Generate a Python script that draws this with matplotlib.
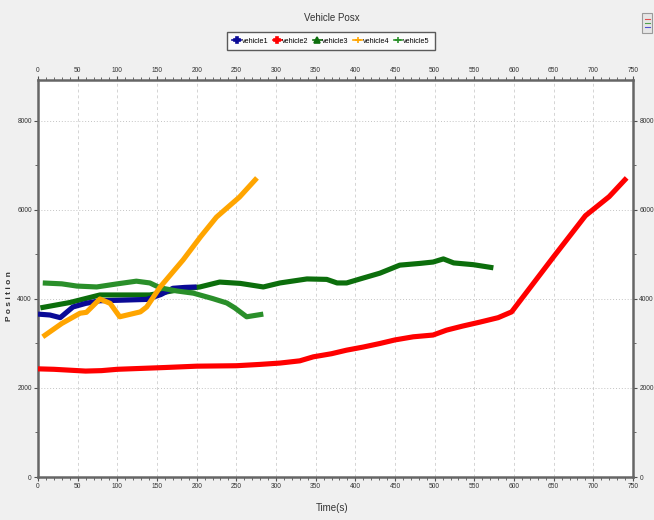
import matplotlib
matplotlib.use("Agg")
import matplotlib.pyplot as plt
from matplotlib.ticker import MultipleLocator
from matplotlib.patches import Rectangle
from matplotlib.lines import Line2D

plt.rcParams['font.family'] = ['Liberation Sans', 'DejaVu Sans']

# ---- data ----
v1_t = [0, 15, 28, 44, 60, 78, 100, 137, 155, 170, 185, 200]
v1_y = [3660, 3640, 3580, 3820, 3900, 3960, 3970, 3990, 4100, 4240, 4260, 4270]

v2_t = [0, 20, 40, 60, 80, 100, 130, 160, 200, 250, 280, 305, 330, 347, 370, 389,
        410, 431, 450, 473, 498, 515, 535, 557, 580, 597, 650, 690, 720, 742]
v2_y = [2430, 2420, 2400, 2380, 2390, 2420, 2440, 2460, 2490, 2500, 2530, 2560, 2610,
        2700, 2770, 2850, 2920, 3000, 3080, 3150, 3190, 3300, 3390, 3480, 3580, 3710,
        4950, 5870, 6300, 6720]

v3_t = [3, 40, 78, 110, 141, 175, 204, 229, 255, 284, 305, 339, 364, 377, 389, 406,
        431, 456, 482, 498, 511, 524, 549, 574]
v3_y = [3800, 3920, 4090, 4090, 4090, 4200, 4270, 4380, 4350, 4270, 4360, 4450, 4440,
        4360, 4360, 4450, 4580, 4760, 4800, 4830, 4900, 4810, 4770, 4700]

v4_t = [6, 30, 53, 61, 78, 91, 103, 129, 137, 154, 183, 205, 225, 254, 276]
v4_y = [3150, 3450, 3680, 3700, 4000, 3900, 3600, 3710, 3820, 4270, 4880, 5400, 5840, 6290, 6720]

v5_t = [6, 30, 49, 74, 100, 124, 141, 154, 175, 196, 220, 238, 248, 263, 284]
v5_y = [4360, 4340, 4290, 4270, 4340, 4400, 4360, 4250, 4180, 4130, 4010, 3910, 3800, 3600, 3660]

names = ['vehicle1', 'vehicle2', 'vehicle3', 'vehicle4', 'vehicle5']
colors = ['#0a0a96', '#ff0000', '#0c6e0c', '#ffa500', '#2a8f2a']
markers = ['P', 'P', '^', '+', '+']
series = [(v1_t, v1_y), (v2_t, v2_y), (v3_t, v3_y), (v4_t, v4_y), (v5_t, v5_y)]

# ---- figure ----
fig = plt.figure(figsize=(6.54, 5.20), dpi=100, facecolor='#f0f0f0')
ax = fig.add_axes([38/654, 1-477/520, (633-38)/654, (477-80)/520])
ax.set_facecolor('white')

draw_order = [1, 2, 0, 4, 3]
for i in draw_order:
    t, y = series[i]
    ax.plot(t, y, color=colors[i], lw=3.7, solid_capstyle='butt', solid_joinstyle='round', zorder=3)

ax.set_xlim(0, 750)
ax.set_ylim(0, 8920)
ax.xaxis.set_major_locator(MultipleLocator(50))
ax.xaxis.set_minor_locator(MultipleLocator(10))
ax.yaxis.set_major_locator(MultipleLocator(2000))
ax.yaxis.set_minor_locator(MultipleLocator(1000))

ax.tick_params(axis='both', which='both', direction='out', colors='#505050',
               labelcolor='#333333', labelsize=4.8, top=True, right=True,
               labeltop=True, labelright=True)
ax.tick_params(which='major', length=3, width=0.8, pad=1.5)
ax.tick_params(which='minor', length=2, width=0.6)

ax.grid(True, axis='x', which='major', color='#d4d4d4', ls=(0, (3, 3)), lw=0.7, zorder=0)
ax.grid(True, axis='y', which='major', color='#c4c4c4', ls=(0, (1, 2)), lw=0.7, zorder=0)

for s in ax.spines.values():
    s.set_color('#666666')
    s.set_linewidth(1.8)

fig.text(10/654, 1-296/520, 'P o s i t i o n', rotation=90, ha='center', va='center',
         fontsize=6, fontweight='bold', color='#333333')
fig.text(332/654, 1-508/520, 'Time(s)', ha='center', va='center', fontsize=7, color='#333333')
fig.text(332/654, 1-18/520, 'Vehicle Posx', ha='center', va='center', fontsize=7, color='#333333')

handles = [Line2D([0], [0], color=colors[i], marker=markers[i], markersize=4.5,
                  markeredgewidth=1.2, lw=1.2) for i in range(5)]
leg = fig.legend(handles, names, loc='center', bbox_to_anchor=(331/654, 1-41/520),
                 ncol=5, fontsize=5.2, frameon=True, fancybox=False, handlelength=1.2,
                 handletextpad=0.1, columnspacing=0.6, borderpad=0.7, edgecolor='#333333')
leg.get_frame().set_linewidth(1.0)
leg.get_frame().set_facecolor('white')

# small toolbar icon top-right
fig.patches.append(Rectangle((642/654, 1-33/520), 10/654, 20/520, transform=fig.transFigure,
                             facecolor='#e6e6e6', edgecolor='#9a9a9a', lw=0.8))
for k, c in enumerate(['#e05050', '#50a050', '#5050d0']):
    yy = 1 - (19 + 4*k)/520
    fig.lines.append(Line2D([644.5/654, 649.5/654], [yy, yy], transform=fig.transFigure,
                            color=c, lw=0.8))

fig.savefig('out.png', dpi=100, facecolor=fig.get_facecolor())
